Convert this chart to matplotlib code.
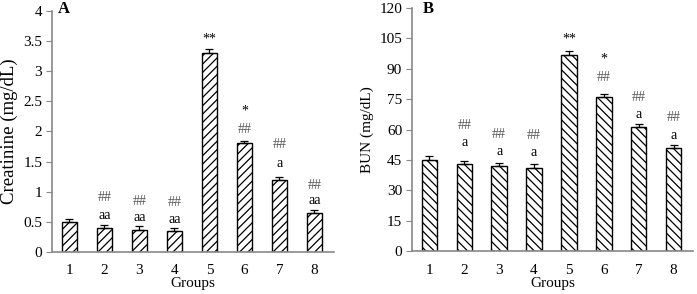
#!/usr/bin/env python3

import numpy as np
import matplotlib
matplotlib.use('Agg')
import matplotlib.pyplot as plt

plt.rcParams['font.family'] = ['Liberation Serif', 'DejaVu Serif']
plt.rcParams['font.size'] = 11
plt.rcParams['hatch.linewidth'] = 0.9

groups = [1, 2, 3, 4, 5, 6, 7, 8]

# A: creatinine
crea = [0.50, 0.40, 0.37, 0.34, 3.30, 1.80, 1.20, 0.65]
crea_err = [0.04, 0.05, 0.06, 0.06, 0.07, 0.04, 0.05, 0.04]
crea_marks = [[], ['aa', '##'], ['aa', '##'], ['aa', '##'],
              ['**'], ['##', '*'], ['a', '##'], ['aa', '##']]

# B: BUN
bun = [45, 43, 42, 41, 97, 76, 61, 51]
bun_err = [1.8, 1.6, 1.6, 2.0, 1.6, 1.4, 1.5, 1.5]
bun_marks = [[], ['a', '##'], ['a', '##'], ['a', '##'],
             ['**'], ['##', '*'], ['a', '##'], ['a', '##']]

# label offsets above error bar top (pixels)
crea_off = [[], [9, 27], [9, 25], [8, 25], [10], [12, 30], [13, 32], [10, 25]]
bun_off = [[], [18, 35], [11, 28], [11, 28], [12], [17, 35], [10, 27], [9, 27]]

fig = plt.figure(figsize=(6.97, 2.94), dpi=100)
axA = fig.add_axes([0.0746, 0.143, 0.404, 0.820])
axB = fig.add_axes([0.591, 0.146, 0.403, 0.827])


def panel(ax, vals, errs, marks, offs, hatch, ymax, ystep, ylabel, ylsize,
          letter, letter_x):
    x = np.array(groups)
    ax.bar(x, vals, width=0.44, color='white', edgecolor='black',
           linewidth=1.0, hatch=hatch, zorder=2)
    ax.errorbar(x, vals, yerr=[np.zeros(len(errs)), errs], fmt='none',
                ecolor='black', elinewidth=0.9, capsize=2.8, capthick=0.9,
                zorder=3)
    for xi, v, e, mk, of in zip(x, vals, errs, marks, offs):
        for m, o in zip(mk, of):
            ax.annotate(m, (xi, v + e), xytext=(0, o * 0.72),
                        textcoords='offset points', ha='center',
                        va='center', fontsize=10,
                        color='#555555' if m.startswith('#') else 'black')
    ax.set_xlim(0.5, 8.55)
    ax.set_ylim(0, ymax)
    ticks = np.arange(0, ymax + ystep / 2, ystep)
    ax.set_yticks(ticks)
    ax.set_yticklabels(['{:g}'.format(t) for t in ticks])
    ax.set_xticks(x)
    ax.tick_params(axis='x', length=0, pad=9)
    ax.tick_params(axis='y', length=4, color='#888888', pad=3)
    for s in ['top', 'right']:
        ax.spines[s].set_visible(False)
    for s in ['left', 'bottom']:
        ax.spines[s].set_color('#888888')
        ax.spines[s].set_linewidth(1.2)
    ax.set_xlabel('Groups', labelpad=0)
    ax.set_ylabel(ylabel, fontsize=ylsize, labelpad=4)
    fig.text(letter_x, 1 - 1.0 / 294, letter, fontsize=12,
             fontweight='bold', ha='left', va='top')


panel(axA, crea, crea_err, crea_marks, crea_off, '////', 4, 0.5,
      'Creatinine (mg/dL)', 13.5, 'A', 58 / 697)
panel(axB, bun, bun_err, bun_marks, bun_off, '\\\\\\\\', 120, 15,
      'BUN (mg/dL)', 11, 'B', 423 / 697)

fig.savefig('out.png', dpi=100)
